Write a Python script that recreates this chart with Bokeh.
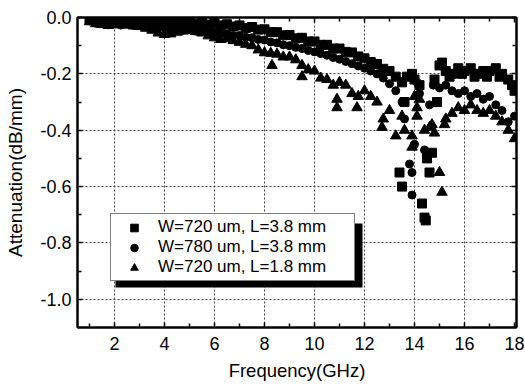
from bokeh.plotting import figure
from bokeh.models import (Range1d, FixedTicker, LinearAxis, Legend, LegendItem,
                          BoxAnnotation)
from bokeh.embed import file_html
from bokeh.resources import INLINE

# ---------------- data ----------------
series_labels = ["W=720 um, L=3.8 mm", "W=780 um, L=3.8 mm", "W=720 um, L=1.8 mm"]

sq_freq = [1.0, 1.25, 1.5, 1.75, 2.0, 2.25, 2.5, 2.75, 3.0, 3.25, 3.5, 3.75, 4.0, 4.25,
           4.5, 4.75, 5.0, 5.25, 5.5, 5.75, 6.0, 6.25, 6.5, 6.75, 7.0, 7.25, 7.5, 7.75,
           8.0, 8.25, 8.5, 8.75, 9.0, 9.25, 9.5, 9.75, 10.0, 10.25, 10.5, 10.75, 11.0,
           11.25, 11.5, 11.75, 12.0, 12.25, 12.5, 12.75, 13.0, 13.25, 13.5,
           13.4, 13.5, 13.6, 13.7, 13.9, 14.0, 14.2, 14.3, 14.4, 14.45, 14.5, 14.6, 14.7,
           14.8, 14.9, 15.0, 15.1,
           15.25, 15.4, 15.5, 15.75, 15.9, 16.0, 16.25, 16.4, 16.5, 16.75, 16.9, 17.0,
           17.25, 17.4, 17.5, 17.75, 17.9, 18.0]
sq_att = [-0.005, -0.012, -0.006, -0.014, -0.008, -0.013, -0.008, -0.014, -0.009, -0.015,
          -0.010, -0.017, -0.012, -0.018, -0.013, -0.020, -0.015, -0.022, -0.017, -0.025,
          -0.020, -0.028, -0.024, -0.032, -0.028, -0.037, -0.034, -0.043, -0.042, -0.052,
          -0.052, -0.063, -0.062, -0.074, -0.072, -0.085, -0.085, -0.097, -0.097, -0.110,
          -0.110, -0.122, -0.124, -0.138, -0.145, -0.158, -0.165, -0.182, -0.190, -0.210,
          -0.230,
          -0.55, -0.60, -0.30, -0.21, -0.20, -0.22, -0.24, -0.66, -0.71, -0.72, -0.50,
          -0.55, -0.48, -0.22, -0.30, -0.17, -0.16,
          -0.19, -0.21, -0.20, -0.18, -0.20, -0.19, -0.18, -0.21, -0.20, -0.19, -0.21,
          -0.19, -0.18, -0.21, -0.20, -0.22, -0.24, -0.26]

ci_freq = [1.0, 1.25, 1.5, 1.75, 2.0, 2.25, 2.5, 2.75, 3.0, 3.25, 3.5, 3.75, 4.0, 4.25,
           4.5, 4.75, 5.0, 5.25, 5.5, 5.75, 6.0, 6.25, 6.5, 6.75, 7.0, 7.25, 7.5, 7.75,
           8.0, 8.25, 8.5, 8.75, 9.0, 9.25, 9.5, 9.75, 10.0, 10.25, 10.5, 10.75, 11.0,
           11.25, 11.5, 11.75, 12.0, 12.25, 12.5, 12.75, 13.0, 13.25, 13.5,
           13.6, 13.8, 13.9, 13.9, 14.0, 14.1, 14.2, 14.4, 14.6,
           14.75, 15.0, 15.25, 15.5, 15.75, 16.0, 16.25, 16.5, 16.75, 17.0, 17.25, 17.5,
           17.75, 18.0]
ci_att = [-0.012, -0.020, -0.018, -0.026, -0.022, -0.027, -0.022, -0.028, -0.026, -0.033,
          -0.030, -0.038, -0.036, -0.043, -0.040, -0.045, -0.042, -0.048, -0.046, -0.053,
          -0.052, -0.058, -0.058, -0.064, -0.064, -0.070, -0.072, -0.078, -0.080, -0.087,
          -0.090, -0.097, -0.100, -0.106, -0.110, -0.117, -0.122, -0.128, -0.134, -0.142,
          -0.148, -0.156, -0.164, -0.172, -0.180, -0.190, -0.200, -0.215, -0.235, -0.260,
          -0.300,
          -0.36, -0.52, -0.55, -0.63, -0.45, -0.23, -0.27, -0.47, -0.31,
          -0.24, -0.25, -0.24, -0.26, -0.27, -0.26, -0.28, -0.27, -0.29, -0.28, -0.31,
          -0.33, -0.37, -0.35]

tr_freq = [1.0, 1.25, 1.5, 1.75, 2.0, 2.25, 2.5, 2.75, 3.0, 3.25, 3.5, 3.75, 4.0, 4.25,
           4.5, 4.75, 5.0, 5.25, 5.5, 5.75, 6.0, 6.25, 6.5, 6.75, 7.0, 7.25, 7.5, 7.75,
           8.0, 8.25, 8.3, 8.5, 8.75, 9.0, 9.25, 9.5, 9.5, 9.75, 10.0, 10.25, 10.5, 10.75,
           10.9, 10.9, 11.0, 11.25, 11.5, 11.75, 11.7, 12.0, 12.25, 12.5, 12.75, 12.7,
           13.0, 13.25, 13.5,
           13.6, 13.9, 13.9, 14.0, 14.1, 14.1, 14.2, 14.4, 14.6, 14.7, 14.8, 15.0, 15.1, 15.2,
           15.25, 15.5, 15.75, 16.0, 16.25, 16.5, 16.75, 17.0, 17.25, 17.5, 17.75, 18.0]
tr_att = [-0.015, -0.022, -0.025, -0.028, -0.026, -0.024, -0.027, -0.030, -0.032, -0.038,
          -0.045, -0.055, -0.060, -0.058, -0.052, -0.048, -0.045, -0.050, -0.055, -0.065,
          -0.072, -0.078, -0.075, -0.082, -0.088, -0.095, -0.100, -0.115, -0.125, -0.127,
          -0.17, -0.13, -0.14, -0.14, -0.15, -0.17, -0.21, -0.185, -0.19, -0.215, -0.22,
          -0.24, -0.29, -0.32, -0.23, -0.24, -0.27, -0.28, -0.32, -0.26, -0.28, -0.30,
          -0.36, -0.39, -0.33, -0.42, -0.35,
          -0.40, -0.46, -0.42, -0.28, -0.32, -0.35, -0.29, -0.40, -0.39, -0.38, -0.41,
          -0.55, -0.62, -0.38,
          -0.36, -0.34, -0.32, -0.33, -0.31, -0.33, -0.34, -0.33, -0.35, -0.37, -0.40, -0.43]

x_ticks = [2, 4, 6, 8, 10, 12, 14, 16, 18]
x_minor = [1, 3, 5, 7, 9, 11, 13, 15, 17]
y_ticks = [0.0, -0.2, -0.4, -0.6, -0.8, -1.0]
y_minor = [-0.1, -0.3, -0.5, -0.7, -0.9]
y_tick_labels = {0.0: "0.0", -0.2: "-0.2", -0.4: "-0.4", -0.6: "-0.6", -0.8: "-0.8", -1.0: "-1.0"}

FONT = "Liberation Sans"

p = figure(width=525, height=386, output_backend="svg", toolbar_location=None,
           x_range=Range1d(0.52, 18.08), y_range=Range1d(-1.1, 0.0),
           min_border_left=77, min_border_right=9, min_border_top=17, min_border_bottom=59,
           x_axis_label="Frequency(GHz)", y_axis_label="Attenuation(dB/mm)")
p.background_fill_color = "white"
p.border_fill_color = "white"
p.outline_line_color = "black"
p.outline_line_width = 2

p.xaxis.ticker = FixedTicker(ticks=x_ticks, minor_ticks=x_minor)
p.yaxis.ticker = FixedTicker(ticks=y_ticks, minor_ticks=y_minor)
p.yaxis.major_label_overrides = y_tick_labels

for ax in (p.xaxis[0], p.yaxis[0]):
    ax.axis_line_width = 2
    ax.major_tick_in = 5
    ax.major_tick_out = 0
    ax.minor_tick_in = 4
    ax.minor_tick_out = 0
    ax.major_tick_line_width = 1.5
    ax.minor_tick_line_width = 1.5
    ax.major_label_text_font = FONT
    ax.major_label_text_font_size = "18px"
    ax.major_label_text_color = "black"
    ax.axis_label_text_font = FONT
    ax.axis_label_text_font_style = "normal"
    ax.axis_label_text_color = "black"
p.xaxis.axis_label_text_font_size = "18.5px"
p.yaxis.axis_label_text_font_size = "19px"
p.xaxis.major_label_standoff = 9
p.xaxis.axis_label_standoff = 7
p.yaxis.major_label_standoff = 6
p.yaxis.axis_label_standoff = 11

# mirrored tick marks on top and right
top = LinearAxis(ticker=FixedTicker(ticks=x_ticks, minor_ticks=x_minor),
                 major_label_overrides={t: "" for t in x_ticks})
right = LinearAxis(ticker=FixedTicker(ticks=y_ticks, minor_ticks=y_minor),
                   major_label_overrides={t: "" for t in y_ticks})
for ax in (top, right):
    ax.axis_line_width = 2
    ax.major_tick_in = 5
    ax.major_tick_out = 0
    ax.minor_tick_in = 4
    ax.minor_tick_out = 0
    ax.major_tick_line_width = 1.5
    ax.minor_tick_line_width = 1.5
    ax.major_label_standoff = 0
    ax.major_label_text_font_size = "1px"
p.add_layout(top, "above")
p.add_layout(right, "right")

for g in (p.xgrid[0], p.ygrid[0]):
    g.grid_line_color = "#444444"
    g.grid_line_dash = "2 2"
    g.grid_line_width = 1
p.xgrid.ticker = FixedTicker(ticks=x_ticks[:-1])
p.ygrid.ticker = FixedTicker(ticks=y_ticks[1:])

r1 = p.scatter(sq_freq, sq_att, marker="square", size=9, color="black")
r2 = p.scatter(ci_freq, ci_att, marker="circle", size=8, color="black")
r3 = p.scatter(tr_freq, tr_att, marker="triangle", size=10.5, color="black")

shadow = BoxAnnotation(left=38, right=285, bottom=40, top=104,
                       left_units="screen", right_units="screen",
                       bottom_units="screen", top_units="screen",
                       fill_color="black", fill_alpha=1.0, line_color=None)
p.add_layout(shadow)

legend = Legend(items=[LegendItem(label=series_labels[0], renderers=[r1]),
                       LegendItem(label=series_labels[1], renderers=[r2]),
                       LegendItem(label=series_labels[2], renderers=[r3])],
                location=(33, 46), margin=0, padding=3, spacing=0,
                glyph_width=40, glyph_height=19, label_height=19, label_standoff=4,
                label_width=193, border_line_color="black", border_line_width=1.5,
                background_fill_color="white", background_fill_alpha=1.0,
                label_text_font=FONT, label_text_font_size="17px", label_text_color="black")
p.add_layout(legend)

open("out.html", "w").write(file_html(p, INLINE))
